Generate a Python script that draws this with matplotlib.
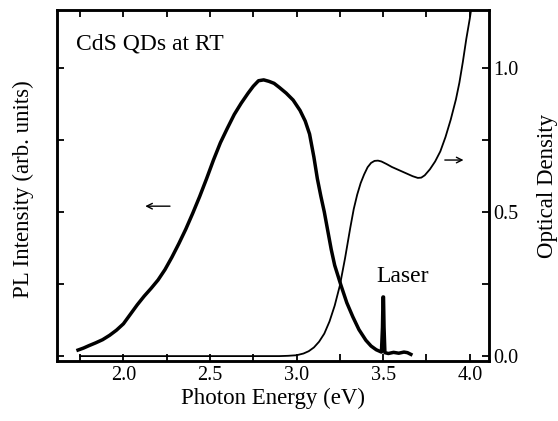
import numpy as np
import matplotlib
matplotlib.use('Agg')
import matplotlib.pyplot as plt
from matplotlib.ticker import MultipleLocator

plt.rcParams['font.family'] = ['Liberation Serif', 'DejaVu Serif']

# PL spectrum (photon energy in eV, normalized intensity)
pl_energy = [1.738, 1.77, 1.80, 1.84, 1.88, 1.92, 1.96, 2.00, 2.04, 2.08, 2.12, 2.16, 2.20,
             2.24, 2.28, 2.32, 2.36, 2.40, 2.44, 2.48, 2.52, 2.56, 2.60, 2.64, 2.68, 2.72,
             2.75, 2.78, 2.81, 2.84, 2.87, 2.90, 2.94, 2.98, 3.02, 3.05, 3.075, 3.10, 3.12,
             3.14, 3.16, 3.18, 3.20, 3.22, 3.256, 3.29, 3.325, 3.36, 3.40, 3.43, 3.46, 3.49,
             3.496, 3.499, 3.502, 3.505, 3.51, 3.53, 3.56, 3.59, 3.62, 3.64, 3.66]
pl_value = [0.021, 0.028, 0.036, 0.046, 0.057, 0.072, 0.09, 0.112, 0.145, 0.178, 0.208, 0.235,
            0.264, 0.30, 0.343, 0.39, 0.44, 0.495, 0.553, 0.615, 0.68, 0.74, 0.79, 0.838, 0.877,
            0.912, 0.936, 0.955, 0.958, 0.953, 0.946, 0.932, 0.912, 0.888, 0.852, 0.815, 0.77,
            0.69, 0.615, 0.555, 0.50, 0.435, 0.37, 0.315, 0.246, 0.185, 0.136, 0.092, 0.055,
            0.035, 0.022, 0.014, 0.10, 0.205, 0.205, 0.10, 0.012, 0.009, 0.013, 0.01, 0.014,
            0.012, 0.006]

# optical density
od_energy = [1.75, 2.2, 2.6, 2.9, 2.95, 3.00, 3.04, 3.07, 3.10, 3.13, 3.16, 3.19, 3.22, 3.25,
             3.28, 3.31, 3.33, 3.35, 3.37, 3.39, 3.41, 3.43, 3.45, 3.47, 3.49, 3.52, 3.55,
             3.58, 3.61, 3.64, 3.67, 3.70, 3.72, 3.74, 3.77, 3.80, 3.83, 3.86, 3.89, 3.92,
             3.94, 3.96, 3.98, 4.00, 4.02, 4.04]
od_value = [0.0, 0.0, 0.0, 0.0, 0.001, 0.003, 0.009, 0.017, 0.03, 0.05, 0.078, 0.12, 0.175,
            0.245, 0.34, 0.445, 0.51, 0.56, 0.60, 0.63, 0.655, 0.67, 0.677, 0.678, 0.675,
            0.666, 0.656, 0.648, 0.64, 0.632, 0.624, 0.618, 0.619, 0.627, 0.648, 0.675, 0.71,
            0.76, 0.82, 0.89, 0.948, 1.02, 1.10, 1.17, 1.25, 1.33]

fig = plt.figure(figsize=(5.58, 4.21), dpi=100)
ax = fig.add_axes([0.102, 0.1425, 0.774, 0.8335])
ax2 = ax.twinx()

ax.plot(pl_energy, pl_value, color='k', lw=2.5, solid_joinstyle='round')
ax2.plot(od_energy, od_value, color='k', lw=1.3)

ax.set_xlim(1.616, 4.11)
ax.set_ylim(-0.017, 1.2)
ax2.set_ylim(-0.017, 1.2)

ax.xaxis.set_major_locator(MultipleLocator(0.5))
ax.xaxis.set_minor_locator(MultipleLocator(0.25))
for a in (ax, ax2):
    a.yaxis.set_major_locator(MultipleLocator(0.5))
    a.yaxis.set_minor_locator(MultipleLocator(0.25))
ax.tick_params(which='both', direction='in', top=True, bottom=True, left=True, right=False,
               labelleft=False, length=5, width=1.3, labelsize=14.5)
ax2.tick_params(which='both', direction='in', right=True, left=False, length=5, width=1.3,
                labelsize=14.5, pad=3)
ax.xaxis.set_major_formatter(plt.FormatStrFormatter('%.1f'))
ax2.yaxis.set_major_formatter(plt.FormatStrFormatter('%.1f'))
for a in (ax, ax2):
    for s in a.spines.values():
        s.set_linewidth(1.8)

ax.set_xlabel('Photon Energy (eV)', fontsize=16.5, labelpad=2)
ax.set_ylabel('PL Intensity (arb. units)', fontsize=16.5)
ax.yaxis.set_label_coords(-0.053, 0.49)
ax2.set_ylabel('Optical Density', fontsize=16.5)
ax2.yaxis.set_label_coords(1.112, 0.5)

ax.text(1.727, 1.0625, 'CdS QDs at RT', fontsize=17, ha='left', va='baseline')
ax.text(3.459, 0.257, 'Laser', fontsize=17, ha='left', va='baseline')

ax.annotate('', xy=(2.11, 0.52), xytext=(2.285, 0.52),
            arrowprops=dict(arrowstyle='->', color='k', lw=1.0))
ax.annotate('', xy=(3.98, 0.68), xytext=(3.84, 0.68),
            arrowprops=dict(arrowstyle='->', color='k', lw=1.0))

fig.savefig('out.png', dpi=100)
